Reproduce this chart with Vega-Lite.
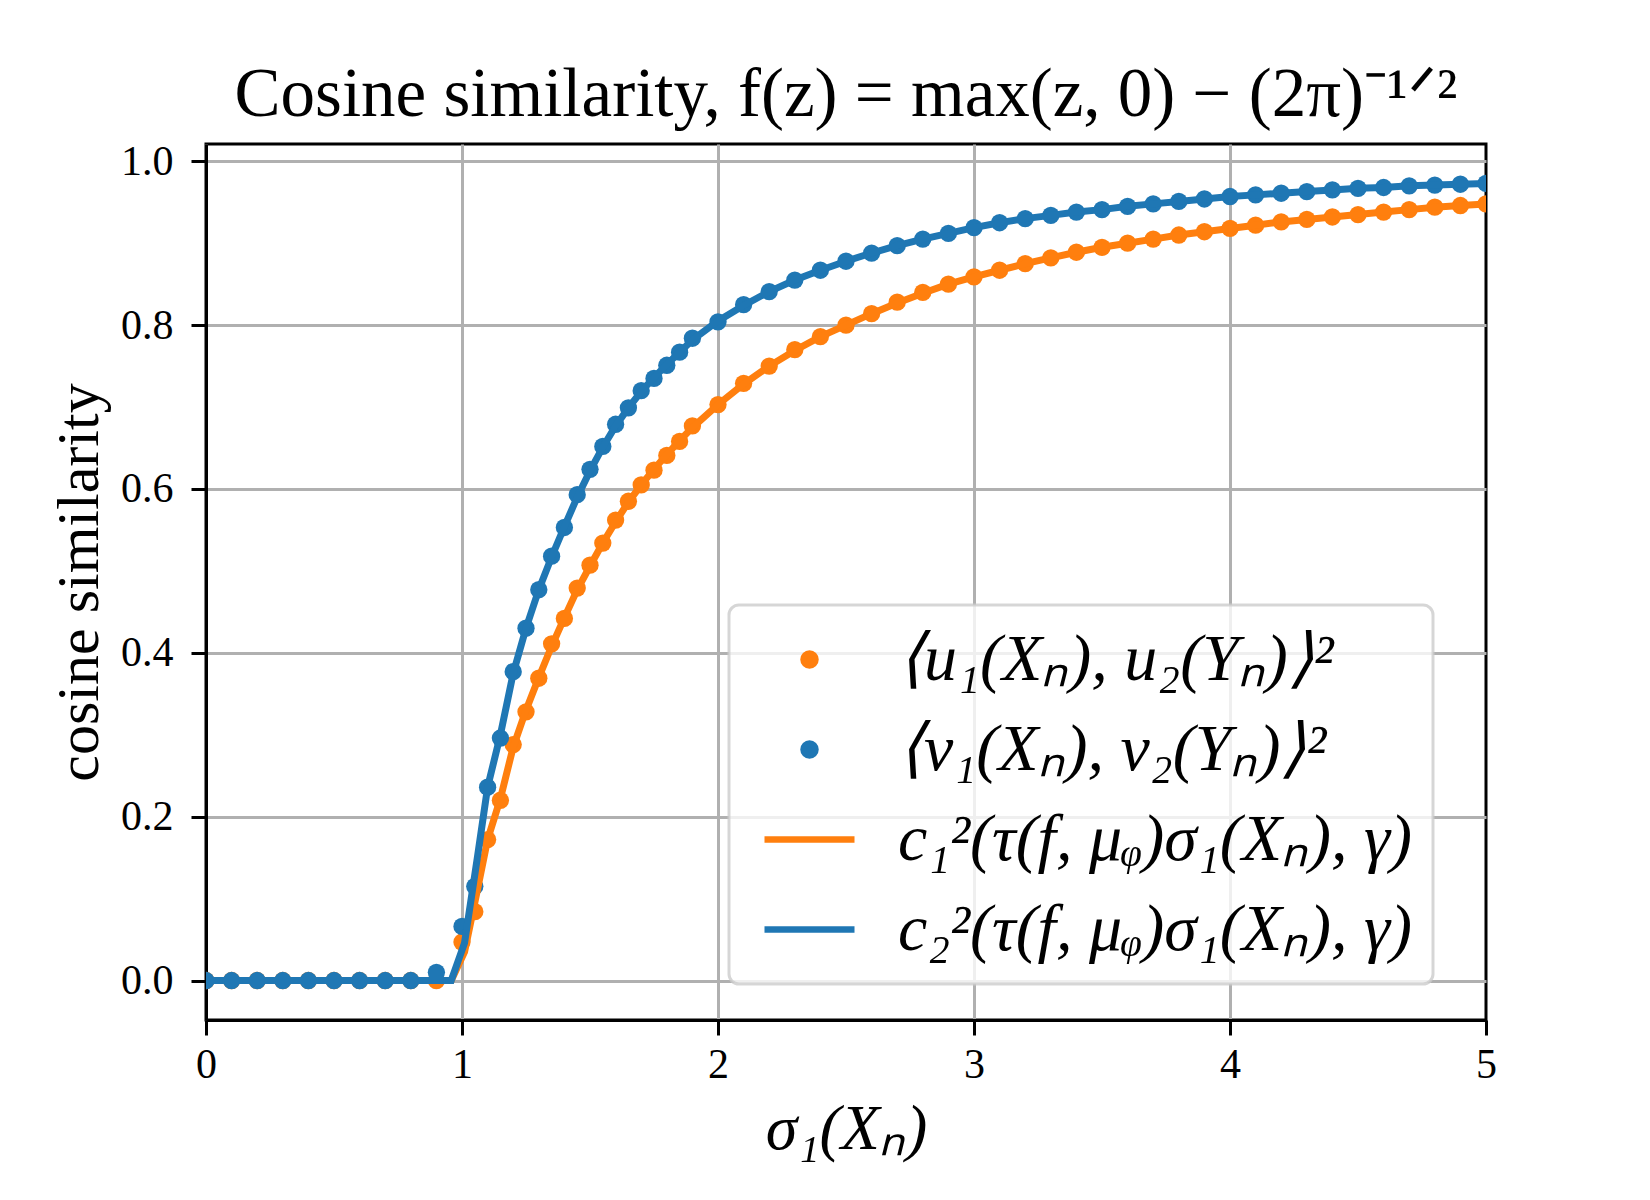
{
  "$schema": "https://vega.github.io/schema/vega-lite/v6.json",
  "width": 1280,
  "height": 876,
  "autosize": {"type": "none"},
  "padding": {"left": 206, "top": 144, "right": 164, "bottom": 180},
  "background": "white",
  "title": {
    "text": "Cosine similarity, f(z) = max(z, 0) − (2π)⁻¹ᐟ²",
    "font": "Liberation Serif",
    "fontSize": 69,
    "fontWeight": "normal",
    "color": "black",
    "anchor": "middle",
    "frame": "group",
    "offset": 10
  },
  "datasets": {
    "pts": [
      {"x": 0, "y": 0, "s": "⟨u₁(Xₙ), u₂(Yₙ)⟩²"},
      {"x": 0.1, "y": 0, "s": "⟨u₁(Xₙ), u₂(Yₙ)⟩²"},
      {"x": 0.2, "y": 0, "s": "⟨u₁(Xₙ), u₂(Yₙ)⟩²"},
      {"x": 0.3, "y": 0, "s": "⟨u₁(Xₙ), u₂(Yₙ)⟩²"},
      {"x": 0.4, "y": 0, "s": "⟨u₁(Xₙ), u₂(Yₙ)⟩²"},
      {"x": 0.5, "y": 0, "s": "⟨u₁(Xₙ), u₂(Yₙ)⟩²"},
      {"x": 0.6, "y": 0, "s": "⟨u₁(Xₙ), u₂(Yₙ)⟩²"},
      {"x": 0.7, "y": 0, "s": "⟨u₁(Xₙ), u₂(Yₙ)⟩²"},
      {"x": 0.8, "y": 0, "s": "⟨u₁(Xₙ), u₂(Yₙ)⟩²"},
      {"x": 0.9, "y": 0, "s": "⟨u₁(Xₙ), u₂(Yₙ)⟩²"},
      {"x": 1.0, "y": 0.047, "s": "⟨u₁(Xₙ), u₂(Yₙ)⟩²"},
      {"x": 1.05, "y": 0.084, "s": "⟨u₁(Xₙ), u₂(Yₙ)⟩²"},
      {"x": 1.1, "y": 0.172, "s": "⟨u₁(Xₙ), u₂(Yₙ)⟩²"},
      {"x": 1.15, "y": 0.220, "s": "⟨u₁(Xₙ), u₂(Yₙ)⟩²"},
      {"x": 1.2, "y": 0.288, "s": "⟨u₁(Xₙ), u₂(Yₙ)⟩²"},
      {"x": 1.25, "y": 0.328, "s": "⟨u₁(Xₙ), u₂(Yₙ)⟩²"},
      {"x": 1.3, "y": 0.369, "s": "⟨u₁(Xₙ), u₂(Yₙ)⟩²"},
      {"x": 1.35, "y": 0.411, "s": "⟨u₁(Xₙ), u₂(Yₙ)⟩²"},
      {"x": 1.4, "y": 0.442, "s": "⟨u₁(Xₙ), u₂(Yₙ)⟩²"},
      {"x": 1.45, "y": 0.479, "s": "⟨u₁(Xₙ), u₂(Yₙ)⟩²"},
      {"x": 1.5, "y": 0.507, "s": "⟨u₁(Xₙ), u₂(Yₙ)⟩²"},
      {"x": 1.55, "y": 0.534, "s": "⟨u₁(Xₙ), u₂(Yₙ)⟩²"},
      {"x": 1.6, "y": 0.562, "s": "⟨u₁(Xₙ), u₂(Yₙ)⟩²"},
      {"x": 1.65, "y": 0.585, "s": "⟨u₁(Xₙ), u₂(Yₙ)⟩²"},
      {"x": 1.7, "y": 0.605, "s": "⟨u₁(Xₙ), u₂(Yₙ)⟩²"},
      {"x": 1.75, "y": 0.623, "s": "⟨u₁(Xₙ), u₂(Yₙ)⟩²"},
      {"x": 1.8, "y": 0.641, "s": "⟨u₁(Xₙ), u₂(Yₙ)⟩²"},
      {"x": 1.85, "y": 0.658, "s": "⟨u₁(Xₙ), u₂(Yₙ)⟩²"},
      {"x": 1.9, "y": 0.677, "s": "⟨u₁(Xₙ), u₂(Yₙ)⟩²"},
      {"x": 2.0, "y": 0.703, "s": "⟨u₁(Xₙ), u₂(Yₙ)⟩²"},
      {"x": 2.1, "y": 0.729, "s": "⟨u₁(Xₙ), u₂(Yₙ)⟩²"},
      {"x": 2.2, "y": 0.750, "s": "⟨u₁(Xₙ), u₂(Yₙ)⟩²"},
      {"x": 2.3, "y": 0.770, "s": "⟨u₁(Xₙ), u₂(Yₙ)⟩²"},
      {"x": 2.4, "y": 0.786, "s": "⟨u₁(Xₙ), u₂(Yₙ)⟩²"},
      {"x": 2.5, "y": 0.800, "s": "⟨u₁(Xₙ), u₂(Yₙ)⟩²"},
      {"x": 2.6, "y": 0.814, "s": "⟨u₁(Xₙ), u₂(Yₙ)⟩²"},
      {"x": 2.7, "y": 0.828, "s": "⟨u₁(Xₙ), u₂(Yₙ)⟩²"},
      {"x": 2.8, "y": 0.840, "s": "⟨u₁(Xₙ), u₂(Yₙ)⟩²"},
      {"x": 2.9, "y": 0.850, "s": "⟨u₁(Xₙ), u₂(Yₙ)⟩²"},
      {"x": 3.0, "y": 0.859, "s": "⟨u₁(Xₙ), u₂(Yₙ)⟩²"},
      {"x": 3.1, "y": 0.867, "s": "⟨u₁(Xₙ), u₂(Yₙ)⟩²"},
      {"x": 3.2, "y": 0.875, "s": "⟨u₁(Xₙ), u₂(Yₙ)⟩²"},
      {"x": 3.3, "y": 0.882, "s": "⟨u₁(Xₙ), u₂(Yₙ)⟩²"},
      {"x": 3.4, "y": 0.889, "s": "⟨u₁(Xₙ), u₂(Yₙ)⟩²"},
      {"x": 3.5, "y": 0.895, "s": "⟨u₁(Xₙ), u₂(Yₙ)⟩²"},
      {"x": 3.6, "y": 0.900, "s": "⟨u₁(Xₙ), u₂(Yₙ)⟩²"},
      {"x": 3.7, "y": 0.905, "s": "⟨u₁(Xₙ), u₂(Yₙ)⟩²"},
      {"x": 3.8, "y": 0.910, "s": "⟨u₁(Xₙ), u₂(Yₙ)⟩²"},
      {"x": 3.9, "y": 0.914, "s": "⟨u₁(Xₙ), u₂(Yₙ)⟩²"},
      {"x": 4.0, "y": 0.918, "s": "⟨u₁(Xₙ), u₂(Yₙ)⟩²"},
      {"x": 4.1, "y": 0.922, "s": "⟨u₁(Xₙ), u₂(Yₙ)⟩²"},
      {"x": 4.2, "y": 0.926, "s": "⟨u₁(Xₙ), u₂(Yₙ)⟩²"},
      {"x": 4.3, "y": 0.929, "s": "⟨u₁(Xₙ), u₂(Yₙ)⟩²"},
      {"x": 4.4, "y": 0.932, "s": "⟨u₁(Xₙ), u₂(Yₙ)⟩²"},
      {"x": 4.5, "y": 0.935, "s": "⟨u₁(Xₙ), u₂(Yₙ)⟩²"},
      {"x": 4.6, "y": 0.938, "s": "⟨u₁(Xₙ), u₂(Yₙ)⟩²"},
      {"x": 4.7, "y": 0.941, "s": "⟨u₁(Xₙ), u₂(Yₙ)⟩²"},
      {"x": 4.8, "y": 0.944, "s": "⟨u₁(Xₙ), u₂(Yₙ)⟩²"},
      {"x": 4.9, "y": 0.946, "s": "⟨u₁(Xₙ), u₂(Yₙ)⟩²"},
      {"x": 5.0, "y": 0.948, "s": "⟨u₁(Xₙ), u₂(Yₙ)⟩²"},
      {"x": 0, "y": 0, "s": "⟨v₁(Xₙ), v₂(Yₙ)⟩²"},
      {"x": 0.1, "y": 0, "s": "⟨v₁(Xₙ), v₂(Yₙ)⟩²"},
      {"x": 0.2, "y": 0, "s": "⟨v₁(Xₙ), v₂(Yₙ)⟩²"},
      {"x": 0.3, "y": 0, "s": "⟨v₁(Xₙ), v₂(Yₙ)⟩²"},
      {"x": 0.4, "y": 0, "s": "⟨v₁(Xₙ), v₂(Yₙ)⟩²"},
      {"x": 0.5, "y": 0, "s": "⟨v₁(Xₙ), v₂(Yₙ)⟩²"},
      {"x": 0.6, "y": 0, "s": "⟨v₁(Xₙ), v₂(Yₙ)⟩²"},
      {"x": 0.7, "y": 0, "s": "⟨v₁(Xₙ), v₂(Yₙ)⟩²"},
      {"x": 0.8, "y": 0, "s": "⟨v₁(Xₙ), v₂(Yₙ)⟩²"},
      {"x": 0.9, "y": 0.010, "s": "⟨v₁(Xₙ), v₂(Yₙ)⟩²"},
      {"x": 1.0, "y": 0.066, "s": "⟨v₁(Xₙ), v₂(Yₙ)⟩²"},
      {"x": 1.05, "y": 0.115, "s": "⟨v₁(Xₙ), v₂(Yₙ)⟩²"},
      {"x": 1.1, "y": 0.236, "s": "⟨v₁(Xₙ), v₂(Yₙ)⟩²"},
      {"x": 1.15, "y": 0.296, "s": "⟨v₁(Xₙ), v₂(Yₙ)⟩²"},
      {"x": 1.2, "y": 0.377, "s": "⟨v₁(Xₙ), v₂(Yₙ)⟩²"},
      {"x": 1.25, "y": 0.430, "s": "⟨v₁(Xₙ), v₂(Yₙ)⟩²"},
      {"x": 1.3, "y": 0.477, "s": "⟨v₁(Xₙ), v₂(Yₙ)⟩²"},
      {"x": 1.35, "y": 0.518, "s": "⟨v₁(Xₙ), v₂(Yₙ)⟩²"},
      {"x": 1.4, "y": 0.553, "s": "⟨v₁(Xₙ), v₂(Yₙ)⟩²"},
      {"x": 1.45, "y": 0.593, "s": "⟨v₁(Xₙ), v₂(Yₙ)⟩²"},
      {"x": 1.5, "y": 0.624, "s": "⟨v₁(Xₙ), v₂(Yₙ)⟩²"},
      {"x": 1.55, "y": 0.652, "s": "⟨v₁(Xₙ), v₂(Yₙ)⟩²"},
      {"x": 1.6, "y": 0.679, "s": "⟨v₁(Xₙ), v₂(Yₙ)⟩²"},
      {"x": 1.65, "y": 0.699, "s": "⟨v₁(Xₙ), v₂(Yₙ)⟩²"},
      {"x": 1.7, "y": 0.720, "s": "⟨v₁(Xₙ), v₂(Yₙ)⟩²"},
      {"x": 1.75, "y": 0.735, "s": "⟨v₁(Xₙ), v₂(Yₙ)⟩²"},
      {"x": 1.8, "y": 0.751, "s": "⟨v₁(Xₙ), v₂(Yₙ)⟩²"},
      {"x": 1.85, "y": 0.767, "s": "⟨v₁(Xₙ), v₂(Yₙ)⟩²"},
      {"x": 1.9, "y": 0.784, "s": "⟨v₁(Xₙ), v₂(Yₙ)⟩²"},
      {"x": 2.0, "y": 0.804, "s": "⟨v₁(Xₙ), v₂(Yₙ)⟩²"},
      {"x": 2.1, "y": 0.825, "s": "⟨v₁(Xₙ), v₂(Yₙ)⟩²"},
      {"x": 2.2, "y": 0.841, "s": "⟨v₁(Xₙ), v₂(Yₙ)⟩²"},
      {"x": 2.3, "y": 0.855, "s": "⟨v₁(Xₙ), v₂(Yₙ)⟩²"},
      {"x": 2.4, "y": 0.867, "s": "⟨v₁(Xₙ), v₂(Yₙ)⟩²"},
      {"x": 2.5, "y": 0.878, "s": "⟨v₁(Xₙ), v₂(Yₙ)⟩²"},
      {"x": 2.6, "y": 0.888, "s": "⟨v₁(Xₙ), v₂(Yₙ)⟩²"},
      {"x": 2.7, "y": 0.897, "s": "⟨v₁(Xₙ), v₂(Yₙ)⟩²"},
      {"x": 2.8, "y": 0.905, "s": "⟨v₁(Xₙ), v₂(Yₙ)⟩²"},
      {"x": 2.9, "y": 0.912, "s": "⟨v₁(Xₙ), v₂(Yₙ)⟩²"},
      {"x": 3.0, "y": 0.919, "s": "⟨v₁(Xₙ), v₂(Yₙ)⟩²"},
      {"x": 3.1, "y": 0.925, "s": "⟨v₁(Xₙ), v₂(Yₙ)⟩²"},
      {"x": 3.2, "y": 0.930, "s": "⟨v₁(Xₙ), v₂(Yₙ)⟩²"},
      {"x": 3.3, "y": 0.934, "s": "⟨v₁(Xₙ), v₂(Yₙ)⟩²"},
      {"x": 3.4, "y": 0.938, "s": "⟨v₁(Xₙ), v₂(Yₙ)⟩²"},
      {"x": 3.5, "y": 0.941, "s": "⟨v₁(Xₙ), v₂(Yₙ)⟩²"},
      {"x": 3.6, "y": 0.945, "s": "⟨v₁(Xₙ), v₂(Yₙ)⟩²"},
      {"x": 3.7, "y": 0.948, "s": "⟨v₁(Xₙ), v₂(Yₙ)⟩²"},
      {"x": 3.8, "y": 0.951, "s": "⟨v₁(Xₙ), v₂(Yₙ)⟩²"},
      {"x": 3.9, "y": 0.954, "s": "⟨v₁(Xₙ), v₂(Yₙ)⟩²"},
      {"x": 4.0, "y": 0.957, "s": "⟨v₁(Xₙ), v₂(Yₙ)⟩²"},
      {"x": 4.1, "y": 0.959, "s": "⟨v₁(Xₙ), v₂(Yₙ)⟩²"},
      {"x": 4.2, "y": 0.961, "s": "⟨v₁(Xₙ), v₂(Yₙ)⟩²"},
      {"x": 4.3, "y": 0.963, "s": "⟨v₁(Xₙ), v₂(Yₙ)⟩²"},
      {"x": 4.4, "y": 0.965, "s": "⟨v₁(Xₙ), v₂(Yₙ)⟩²"},
      {"x": 4.5, "y": 0.967, "s": "⟨v₁(Xₙ), v₂(Yₙ)⟩²"},
      {"x": 4.6, "y": 0.968, "s": "⟨v₁(Xₙ), v₂(Yₙ)⟩²"},
      {"x": 4.7, "y": 0.970, "s": "⟨v₁(Xₙ), v₂(Yₙ)⟩²"},
      {"x": 4.8, "y": 0.971, "s": "⟨v₁(Xₙ), v₂(Yₙ)⟩²"},
      {"x": 4.9, "y": 0.972, "s": "⟨v₁(Xₙ), v₂(Yₙ)⟩²"},
      {"x": 5.0, "y": 0.973, "s": "⟨v₁(Xₙ), v₂(Yₙ)⟩²"}
    ],
    "lns": [
      {"x": 0, "y": 0, "s": "c₁²(τ(f, μᵩ)σ₁(Xₙ), γ)"},
      {"x": 0.958, "y": 0, "s": "c₁²(τ(f, μᵩ)σ₁(Xₙ), γ)"},
      {"x": 1.01, "y": 0.035, "s": "c₁²(τ(f, μᵩ)σ₁(Xₙ), γ)"},
      {"x": 1.06, "y": 0.11, "s": "c₁²(τ(f, μᵩ)σ₁(Xₙ), γ)"},
      {"x": 1.1, "y": 0.172, "s": "c₁²(τ(f, μᵩ)σ₁(Xₙ), γ)"},
      {"x": 1.15, "y": 0.222, "s": "c₁²(τ(f, μᵩ)σ₁(Xₙ), γ)"},
      {"x": 1.2, "y": 0.285, "s": "c₁²(τ(f, μᵩ)σ₁(Xₙ), γ)"},
      {"x": 1.25, "y": 0.330, "s": "c₁²(τ(f, μᵩ)σ₁(Xₙ), γ)"},
      {"x": 1.3, "y": 0.370, "s": "c₁²(τ(f, μᵩ)σ₁(Xₙ), γ)"},
      {"x": 1.35, "y": 0.408, "s": "c₁²(τ(f, μᵩ)σ₁(Xₙ), γ)"},
      {"x": 1.4, "y": 0.443, "s": "c₁²(τ(f, μᵩ)σ₁(Xₙ), γ)"},
      {"x": 1.45, "y": 0.477, "s": "c₁²(τ(f, μᵩ)σ₁(Xₙ), γ)"},
      {"x": 1.5, "y": 0.506, "s": "c₁²(τ(f, μᵩ)σ₁(Xₙ), γ)"},
      {"x": 1.55, "y": 0.534, "s": "c₁²(τ(f, μᵩ)σ₁(Xₙ), γ)"},
      {"x": 1.6, "y": 0.560, "s": "c₁²(τ(f, μᵩ)σ₁(Xₙ), γ)"},
      {"x": 1.65, "y": 0.584, "s": "c₁²(τ(f, μᵩ)σ₁(Xₙ), γ)"},
      {"x": 1.7, "y": 0.605, "s": "c₁²(τ(f, μᵩ)σ₁(Xₙ), γ)"},
      {"x": 1.75, "y": 0.624, "s": "c₁²(τ(f, μᵩ)σ₁(Xₙ), γ)"},
      {"x": 1.8, "y": 0.642, "s": "c₁²(τ(f, μᵩ)σ₁(Xₙ), γ)"},
      {"x": 1.85, "y": 0.659, "s": "c₁²(τ(f, μᵩ)σ₁(Xₙ), γ)"},
      {"x": 1.9, "y": 0.675, "s": "c₁²(τ(f, μᵩ)σ₁(Xₙ), γ)"},
      {"x": 2.0, "y": 0.703, "s": "c₁²(τ(f, μᵩ)σ₁(Xₙ), γ)"},
      {"x": 2.1, "y": 0.728, "s": "c₁²(τ(f, μᵩ)σ₁(Xₙ), γ)"},
      {"x": 2.2, "y": 0.750, "s": "c₁²(τ(f, μᵩ)σ₁(Xₙ), γ)"},
      {"x": 2.3, "y": 0.769, "s": "c₁²(τ(f, μᵩ)σ₁(Xₙ), γ)"},
      {"x": 2.4, "y": 0.786, "s": "c₁²(τ(f, μᵩ)σ₁(Xₙ), γ)"},
      {"x": 2.5, "y": 0.800, "s": "c₁²(τ(f, μᵩ)σ₁(Xₙ), γ)"},
      {"x": 2.6, "y": 0.814, "s": "c₁²(τ(f, μᵩ)σ₁(Xₙ), γ)"},
      {"x": 2.7, "y": 0.827, "s": "c₁²(τ(f, μᵩ)σ₁(Xₙ), γ)"},
      {"x": 2.8, "y": 0.839, "s": "c₁²(τ(f, μᵩ)σ₁(Xₙ), γ)"},
      {"x": 2.9, "y": 0.850, "s": "c₁²(τ(f, μᵩ)σ₁(Xₙ), γ)"},
      {"x": 3.0, "y": 0.859, "s": "c₁²(τ(f, μᵩ)σ₁(Xₙ), γ)"},
      {"x": 3.1, "y": 0.867, "s": "c₁²(τ(f, μᵩ)σ₁(Xₙ), γ)"},
      {"x": 3.2, "y": 0.875, "s": "c₁²(τ(f, μᵩ)σ₁(Xₙ), γ)"},
      {"x": 3.3, "y": 0.882, "s": "c₁²(τ(f, μᵩ)σ₁(Xₙ), γ)"},
      {"x": 3.4, "y": 0.889, "s": "c₁²(τ(f, μᵩ)σ₁(Xₙ), γ)"},
      {"x": 3.5, "y": 0.895, "s": "c₁²(τ(f, μᵩ)σ₁(Xₙ), γ)"},
      {"x": 3.6, "y": 0.900, "s": "c₁²(τ(f, μᵩ)σ₁(Xₙ), γ)"},
      {"x": 3.7, "y": 0.905, "s": "c₁²(τ(f, μᵩ)σ₁(Xₙ), γ)"},
      {"x": 3.8, "y": 0.910, "s": "c₁²(τ(f, μᵩ)σ₁(Xₙ), γ)"},
      {"x": 3.9, "y": 0.914, "s": "c₁²(τ(f, μᵩ)σ₁(Xₙ), γ)"},
      {"x": 4.0, "y": 0.918, "s": "c₁²(τ(f, μᵩ)σ₁(Xₙ), γ)"},
      {"x": 4.1, "y": 0.922, "s": "c₁²(τ(f, μᵩ)σ₁(Xₙ), γ)"},
      {"x": 4.2, "y": 0.926, "s": "c₁²(τ(f, μᵩ)σ₁(Xₙ), γ)"},
      {"x": 4.3, "y": 0.929, "s": "c₁²(τ(f, μᵩ)σ₁(Xₙ), γ)"},
      {"x": 4.4, "y": 0.932, "s": "c₁²(τ(f, μᵩ)σ₁(Xₙ), γ)"},
      {"x": 4.5, "y": 0.935, "s": "c₁²(τ(f, μᵩ)σ₁(Xₙ), γ)"},
      {"x": 4.6, "y": 0.938, "s": "c₁²(τ(f, μᵩ)σ₁(Xₙ), γ)"},
      {"x": 4.7, "y": 0.941, "s": "c₁²(τ(f, μᵩ)σ₁(Xₙ), γ)"},
      {"x": 4.8, "y": 0.944, "s": "c₁²(τ(f, μᵩ)σ₁(Xₙ), γ)"},
      {"x": 4.9, "y": 0.946, "s": "c₁²(τ(f, μᵩ)σ₁(Xₙ), γ)"},
      {"x": 5.0, "y": 0.948, "s": "c₁²(τ(f, μᵩ)σ₁(Xₙ), γ)"},
      {"x": 0, "y": 0, "s": "c₂²(τ(f, μᵩ)σ₁(Xₙ), γ)"},
      {"x": 0.958, "y": 0, "s": "c₂²(τ(f, μᵩ)σ₁(Xₙ), γ)"},
      {"x": 1.01, "y": 0.046, "s": "c₂²(τ(f, μᵩ)σ₁(Xₙ), γ)"},
      {"x": 1.06, "y": 0.15, "s": "c₂²(τ(f, μᵩ)σ₁(Xₙ), γ)"},
      {"x": 1.1, "y": 0.236, "s": "c₂²(τ(f, μᵩ)σ₁(Xₙ), γ)"},
      {"x": 1.15, "y": 0.300, "s": "c₂²(τ(f, μᵩ)σ₁(Xₙ), γ)"},
      {"x": 1.2, "y": 0.375, "s": "c₂²(τ(f, μᵩ)σ₁(Xₙ), γ)"},
      {"x": 1.25, "y": 0.430, "s": "c₂²(τ(f, μᵩ)σ₁(Xₙ), γ)"},
      {"x": 1.3, "y": 0.477, "s": "c₂²(τ(f, μᵩ)σ₁(Xₙ), γ)"},
      {"x": 1.35, "y": 0.517, "s": "c₂²(τ(f, μᵩ)σ₁(Xₙ), γ)"},
      {"x": 1.4, "y": 0.554, "s": "c₂²(τ(f, μᵩ)σ₁(Xₙ), γ)"},
      {"x": 1.45, "y": 0.590, "s": "c₂²(τ(f, μᵩ)σ₁(Xₙ), γ)"},
      {"x": 1.5, "y": 0.622, "s": "c₂²(τ(f, μᵩ)σ₁(Xₙ), γ)"},
      {"x": 1.55, "y": 0.651, "s": "c₂²(τ(f, μᵩ)σ₁(Xₙ), γ)"},
      {"x": 1.6, "y": 0.677, "s": "c₂²(τ(f, μᵩ)σ₁(Xₙ), γ)"},
      {"x": 1.65, "y": 0.699, "s": "c₂²(τ(f, μᵩ)σ₁(Xₙ), γ)"},
      {"x": 1.7, "y": 0.719, "s": "c₂²(τ(f, μᵩ)σ₁(Xₙ), γ)"},
      {"x": 1.75, "y": 0.736, "s": "c₂²(τ(f, μᵩ)σ₁(Xₙ), γ)"},
      {"x": 1.8, "y": 0.752, "s": "c₂²(τ(f, μᵩ)σ₁(Xₙ), γ)"},
      {"x": 1.85, "y": 0.767, "s": "c₂²(τ(f, μᵩ)σ₁(Xₙ), γ)"},
      {"x": 1.9, "y": 0.782, "s": "c₂²(τ(f, μᵩ)σ₁(Xₙ), γ)"},
      {"x": 2.0, "y": 0.805, "s": "c₂²(τ(f, μᵩ)σ₁(Xₙ), γ)"},
      {"x": 2.1, "y": 0.824, "s": "c₂²(τ(f, μᵩ)σ₁(Xₙ), γ)"},
      {"x": 2.2, "y": 0.841, "s": "c₂²(τ(f, μᵩ)σ₁(Xₙ), γ)"},
      {"x": 2.3, "y": 0.855, "s": "c₂²(τ(f, μᵩ)σ₁(Xₙ), γ)"},
      {"x": 2.4, "y": 0.867, "s": "c₂²(τ(f, μᵩ)σ₁(Xₙ), γ)"},
      {"x": 2.5, "y": 0.878, "s": "c₂²(τ(f, μᵩ)σ₁(Xₙ), γ)"},
      {"x": 2.6, "y": 0.888, "s": "c₂²(τ(f, μᵩ)σ₁(Xₙ), γ)"},
      {"x": 2.7, "y": 0.897, "s": "c₂²(τ(f, μᵩ)σ₁(Xₙ), γ)"},
      {"x": 2.8, "y": 0.905, "s": "c₂²(τ(f, μᵩ)σ₁(Xₙ), γ)"},
      {"x": 2.9, "y": 0.912, "s": "c₂²(τ(f, μᵩ)σ₁(Xₙ), γ)"},
      {"x": 3.0, "y": 0.919, "s": "c₂²(τ(f, μᵩ)σ₁(Xₙ), γ)"},
      {"x": 3.1, "y": 0.925, "s": "c₂²(τ(f, μᵩ)σ₁(Xₙ), γ)"},
      {"x": 3.2, "y": 0.930, "s": "c₂²(τ(f, μᵩ)σ₁(Xₙ), γ)"},
      {"x": 3.3, "y": 0.934, "s": "c₂²(τ(f, μᵩ)σ₁(Xₙ), γ)"},
      {"x": 3.4, "y": 0.938, "s": "c₂²(τ(f, μᵩ)σ₁(Xₙ), γ)"},
      {"x": 3.5, "y": 0.941, "s": "c₂²(τ(f, μᵩ)σ₁(Xₙ), γ)"},
      {"x": 3.6, "y": 0.945, "s": "c₂²(τ(f, μᵩ)σ₁(Xₙ), γ)"},
      {"x": 3.7, "y": 0.948, "s": "c₂²(τ(f, μᵩ)σ₁(Xₙ), γ)"},
      {"x": 3.8, "y": 0.951, "s": "c₂²(τ(f, μᵩ)σ₁(Xₙ), γ)"},
      {"x": 3.9, "y": 0.954, "s": "c₂²(τ(f, μᵩ)σ₁(Xₙ), γ)"},
      {"x": 4.0, "y": 0.957, "s": "c₂²(τ(f, μᵩ)σ₁(Xₙ), γ)"},
      {"x": 4.1, "y": 0.959, "s": "c₂²(τ(f, μᵩ)σ₁(Xₙ), γ)"},
      {"x": 4.2, "y": 0.961, "s": "c₂²(τ(f, μᵩ)σ₁(Xₙ), γ)"},
      {"x": 4.3, "y": 0.963, "s": "c₂²(τ(f, μᵩ)σ₁(Xₙ), γ)"},
      {"x": 4.4, "y": 0.965, "s": "c₂²(τ(f, μᵩ)σ₁(Xₙ), γ)"},
      {"x": 4.5, "y": 0.967, "s": "c₂²(τ(f, μᵩ)σ₁(Xₙ), γ)"},
      {"x": 4.6, "y": 0.968, "s": "c₂²(τ(f, μᵩ)σ₁(Xₙ), γ)"},
      {"x": 4.7, "y": 0.970, "s": "c₂²(τ(f, μᵩ)σ₁(Xₙ), γ)"},
      {"x": 4.8, "y": 0.971, "s": "c₂²(τ(f, μᵩ)σ₁(Xₙ), γ)"},
      {"x": 4.9, "y": 0.972, "s": "c₂²(τ(f, μᵩ)σ₁(Xₙ), γ)"},
      {"x": 5.0, "y": 0.973, "s": "c₂²(τ(f, μᵩ)σ₁(Xₙ), γ)"}
    ]
  },
  "encoding": {
    "x": {
      "field": "x",
      "type": "quantitative",
      "scale": {"domain": [0, 5], "nice": false, "zero": false},
      "axis": {
        "values": [0, 1, 2, 3, 4, 5],
        "format": "d",
        "title": "σ₁(Xₙ)",
        "labelFlush": false,
        "gridOpacity": {"condition": {"test": "datum.value === 5", "value": 0}, "value": 1}
      }
    },
    "y": {
      "field": "y",
      "type": "quantitative",
      "scale": {"domain": [-0.0482, 1.0211], "nice": false, "zero": false},
      "axis": {
        "values": [0, 0.2, 0.4, 0.6, 0.8, 1.0],
        "format": ".1f",
        "title": "cosine similarity",
        "labelFlush": false
      }
    },
    "color": {
      "field": "s",
      "type": "nominal",
      "scale": {
        "domain": ["⟨u₁(Xₙ), u₂(Yₙ)⟩²", "⟨v₁(Xₙ), v₂(Yₙ)⟩²", "c₁²(τ(f, μᵩ)σ₁(Xₙ), γ)", "c₂²(τ(f, μᵩ)σ₁(Xₙ), γ)"],
        "range": ["#ff7f0e", "#1f77b4", "#ff7f0e", "#1f77b4"]
      },
      "legend": {
        "title": null,
        "orient": "none",
        "legendX": 523,
        "legendY": 461,
        "direction": "vertical",
        "labelFont": "Liberation Serif",
        "labelFontSize": 66,
        "labelFontStyle": "italic",
        "labelColor": "black",
        "labelLimit": 2000,
        "symbolSize": 3600,
        "symbolStrokeWidth": 6.5,
        "symbolOffset": 26,
        "labelOffset": 55,
        "padding": 21,
        "rowPadding": 23,
        "fillColor": "rgba(255,255,255,0.8)",
        "strokeColor": "rgba(204,204,204,0.8)",
        "cornerRadius": 10,
        "symbolOpacity": 1,
        "encode": {
          "symbols": {
            "update": {
              "shape": {"signal": "datum.index < 2 ? 'M-0.2,0A0.2,0.2,0,1,1,0.2,0A0.2,0.2,0,1,1,-0.2,0Z' : 'M-1.5,0L1.5,0'"},
              "fill": {"scale": "color", "field": "value"},
              "stroke": {"scale": "color", "field": "value"}
            }
          },
          "labels": {
            "update": {
              "text": {"signal": "datum.label + '\u2002\u2009'"}
            }
          },
          "legend": {"update": {"strokeWidth": {"value": 3}}}
        }
      }
    }
  },
  "layer": [
    {
      "data": {"name": "pts"},
      "mark": {"type": "point", "filled": true, "size": 300, "strokeWidth": 0, "opacity": 1, "clip": true}
    },
    {
      "data": {"name": "lns"},
      "mark": {"type": "line", "strokeWidth": 7, "clip": true}
    }
  ],
  "config": {
    "view": {"stroke": "black", "strokeWidth": 3},
    "axis": {
      "labelFont": "Liberation Serif",
      "labelFontSize": 42,
      "labelColor": "black",
      "titleFont": "Liberation Serif",
      "titleFontSize": 60,
      "titleFontWeight": "normal",
      "titleColor": "black",
      "domainColor": "black",
      "domainWidth": 3,
      "tickColor": "black",
      "tickWidth": 3,
      "tickSize": 15,
      "grid": true,
      "gridColor": "#b0b0b0",
      "gridWidth": 3,
      "labelOverlap": false
    },
    "axisX": {"labelPadding": 9, "titlePadding": 12, "titleFontStyle": "italic", "titleFontSize": 64},
    "axisY": {"labelPadding": 18, "titlePadding": 10}
  }
}
